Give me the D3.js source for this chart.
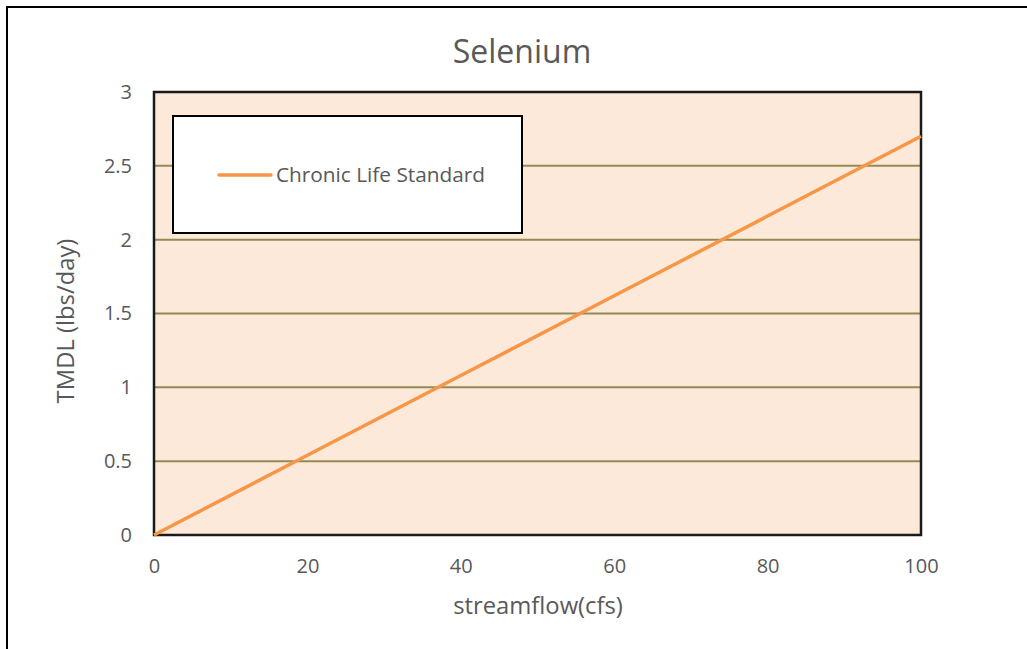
<!DOCTYPE html>
<html>
<head>
<meta charset="utf-8">
<script src="https://cdn.jsdelivr.net/npm/d3@7"></script>
<style>
  html, body { margin: 0; padding: 0; background: #fff; }
  svg { display: block; }
  text { font-family: "Open Sans", Lato, sans-serif; fill: #595959; }
</style>
</head>
<body>
<svg id="chart" width="1027" height="649"></svg>
<script>
// Selenium TMDL vs streamflow
const streamflow = [0, 20, 40, 60, 80, 100];
const tmdl = [0, 0.54, 1.08, 1.62, 2.16, 2.7];
const xTicks = [0, 20, 40, 60, 80, 100];
const yTicks = [0, 0.5, 1, 1.5, 2, 2.5, 3];
const seriesName = "Chronic Life Standard";

const svg = d3.select("#chart");
const W = 1027, H = 649;
const m = { left: 154, right: 921, top: 92, bottom: 535 };
const font = "'Open Sans', Lato, sans-serif";

// outer frame
svg.append("rect").attr("x", 7).attr("y", 7).attr("width", W + 10).attr("height", H + 10)
  .attr("fill", "#fff").attr("stroke", "#000").attr("stroke-width", 2);

const x = d3.scaleLinear().domain([0, 100]).range([m.left, m.right]);
const y = d3.scaleLinear().domain([0, 3]).range([m.bottom, m.top]);

// plot background
svg.append("rect").attr("x", m.left).attr("y", m.top)
  .attr("width", m.right - m.left).attr("height", m.bottom - m.top)
  .attr("fill", "#FDE9D9");

// gridlines
svg.append("g").selectAll("line").data(yTicks.filter(d => d > 0 && d < 3)).join("line")
  .attr("x1", m.left).attr("x2", m.right)
  .attr("y1", d => y(d)).attr("y2", d => y(d))
  .attr("stroke", "#948A54").attr("stroke-width", 2);

// plot frame
svg.append("rect").attr("x", m.left).attr("y", m.top)
  .attr("width", m.right - m.left).attr("height", m.bottom - m.top)
  .attr("fill", "none").attr("stroke", "#1a1a1a").attr("stroke-width", 2.5);

// axes (labels only)
const xAxis = svg.append("g").attr("transform", `translate(0,${m.bottom})`)
  .call(d3.axisBottom(x).tickValues(xTicks).tickSize(0).tickPadding(24));
const yAxis = svg.append("g").attr("transform", `translate(${m.left},0)`)
  .call(d3.axisLeft(y).tickValues(yTicks).tickSize(0).tickPadding(22).tickFormat(d3.format("")));
[xAxis, yAxis].forEach(g => {
  g.select(".domain").remove();
  g.selectAll("text").style("font-size", "20px").style("font-family", font).attr("fill", "#595959");
});

// series line
const line = d3.line().x((d, i) => x(streamflow[i])).y(d => y(d));
svg.append("path").datum(tmdl).attr("d", line)
  .attr("fill", "none").attr("stroke", "#F79646").attr("stroke-width", 3.5);

// legend
const lg = svg.append("g");
lg.append("rect").attr("x", 173).attr("y", 116).attr("width", 349).attr("height", 117)
  .attr("fill", "#fff").attr("stroke", "#000").attr("stroke-width", 2);
lg.append("line").attr("x1", 219).attr("x2", 271).attr("y1", 175).attr("y2", 175)
  .attr("stroke", "#F79646").attr("stroke-width", 3.5).attr("stroke-linecap", "round");
lg.append("text").attr("x", 276).attr("y", 182).style("font-size", "20.8px").text(seriesName);

// title and axis titles
svg.append("text").attr("x", 522).attr("y", 63).attr("text-anchor", "middle")
  .style("font-size", "32px").text("Selenium");
svg.append("text").attr("x", 538).attr("y", 614).attr("text-anchor", "middle")
  .style("font-size", "23.8px").text("streamflow(cfs)");
svg.append("text").attr("transform", "translate(74,321) rotate(-90)").attr("text-anchor", "middle")
  .style("font-size", "23.8px").text("TMDL (lbs/day)");
</script>
</body>
</html>
